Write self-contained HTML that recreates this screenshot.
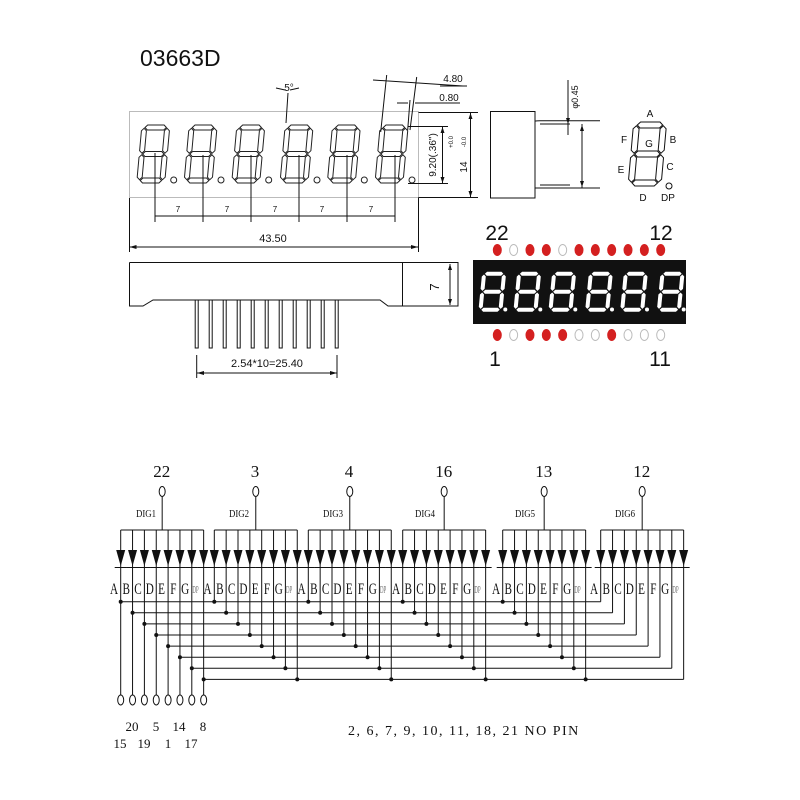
<!DOCTYPE html>
<html><head><meta charset="utf-8"><style>
html,body{margin:0;padding:0;background:#fff;}
svg{display:block;}
.s{font-family:"Liberation Serif",serif;}
.a{font-family:"Liberation Sans",sans-serif;}
</style></head><body>
<svg id="sv" width="800" height="800" viewBox="0 0 800 800" xmlns="http://www.w3.org/2000/svg">
<rect width="800" height="800" fill="#fff"/>
<text x="140" y="66" class="a" font-size="23" fill="#111">03663D</text>

<!-- front view -->
<rect x="129.5" y="111.5" width="289" height="86" fill="none" stroke="#bbb" stroke-width="1"/>
<g id="fd" stroke="#222" stroke-width="1" fill="none"></g>
<g stroke="#111" stroke-width="1" fill="none">
<path d="M418.5 112.5H478M418.5 197.5H478M418.5 197.5V252M129.5 198V252"/>
<path d="M408 126.5H448M408 183.5H448M442.5 127V183M470.5 113V197"/>
<path d="M155 153V222M203 155V222M251 155V222M299 155V222M347 155V222M395 155V222M155 216H395"/>
<path d="M129.5 247H418"/>
<path d="M386.7 75L380.7 132M416.7 77L410 130M410 100L407.7 130M373 80L463 86M440 86H467M397 103H408M415 103H460"/>
<path d="M288 93L286 123M276 88L285 90M290 90L299 88"/>
</g>
<g fill="#111">
<path d="M442.5 127l-2 6h4zM442.5 183l-2 -6h4zM470.5 113l-2 6h4zM470.5 197l-2 -6h4zM129.5 247l7 -2v4zM418 247l-7 -2v4z"/>
</g>
<g class="a" font-size="8" fill="#111" text-anchor="middle">
<text x="178" y="212">7</text><text x="227" y="212">7</text><text x="275" y="212">7</text><text x="322" y="212">7</text><text x="371" y="212">7</text>
</g>
<text x="273" y="242" class="a" font-size="11" text-anchor="middle" fill="#111">43.50</text>
<text x="453" y="82" class="a" font-size="10" text-anchor="middle" fill="#111">4.80</text>
<text x="449" y="101" class="a" font-size="10" text-anchor="middle" fill="#111">0.80</text>
<text x="289" y="91" class="a" font-size="10" text-anchor="middle" fill="#111">5°</text>
<text transform="translate(436,155) rotate(-90)" class="a" font-size="10" text-anchor="middle" fill="#111">9.20(.36")</text>
<text transform="translate(453,142) rotate(-90)" class="a" font-size="6" text-anchor="middle" fill="#111">+0.0</text>
<text transform="translate(466,142) rotate(-90)" class="a" font-size="6" text-anchor="middle" fill="#111">-0.0</text>
<text transform="translate(467,167) rotate(-90)" class="a" font-size="10" text-anchor="middle" fill="#111">14</text>

<!-- side view -->
<g stroke="#111" stroke-width="1" fill="none">
<path d="M129.5 262.5H458V306H402.5M402.5 262.5V306H388L380 300H153L143 306H129.5V262.5"/>
<path d="M450 264V305M196.7 355V378M337 355V378M197 373H337"/>
</g>
<g id="pins" stroke="#111" stroke-width="1" fill="#fff"></g>
<g fill="#111"><path d="M450 264l-2 6h4zM450 305l-2 -6h4zM197 373l7 -2v4zM337 373l-7 -2v4z"/></g>
<text x="267" y="367" class="a" font-size="11" text-anchor="middle" fill="#111">2.54*10=25.40</text>
<text transform="translate(439,287) rotate(-90)" class="a" font-size="13" text-anchor="middle" fill="#111">7</text>

<!-- profile -->
<g stroke="#111" stroke-width="1" fill="none">
<path d="M490.5 111.5H535V198H490.5Z"/>
<path d="M535 121C537 121 537 120.7 540 120.7H600M540 124H570M535 188C537 188 537 188 540 188H600M540 185H570"/>
<path d="M568 80V135M582 124V188"/>
</g>
<g fill="#111"><path d="M568 124l-2 -6h4zM582 125l-2 6h4zM582 187l-2 -6h4z"/></g>
<text transform="translate(578,97) rotate(-90)" class="a" font-size="9" text-anchor="middle" fill="#111">φ0.45</text>

<!-- segment legend -->
<g id="leg" stroke="#111" stroke-width="1" fill="none"></g>
<g class="a" font-size="10" fill="#111" text-anchor="middle">
<text x="650" y="117">A</text><text x="673" y="143">B</text><text x="624" y="143">F</text><text x="649" y="147">G</text>
<text x="621" y="173">E</text><text x="670" y="170">C</text><text x="643" y="201">D</text><text x="668" y="201">DP</text>
</g>
<circle cx="669" cy="186" r="3" fill="none" stroke="#111"/>

<!-- LED photo -->
<rect x="473" y="260" width="213" height="64" fill="#111"/>
<g id="led" fill="#fff"></g>
<g id="dots"></g>
<g class="a" font-size="21" fill="#111" text-anchor="middle">
<text x="497" y="240">22</text><text x="661" y="240">12</text>
<text x="495" y="366">1</text><text x="660" y="366">11</text>
</g>

<!-- schematic -->
<g id="sch" stroke="#111" stroke-width="1" fill="none"></g>
<g id="schf" fill="#111"></g>
<g class="s" font-size="17" fill="#111" text-anchor="middle">
<text x="161.7" y="477">22</text><text x="255" y="477">3</text><text x="349" y="477">4</text>
<text x="443.7" y="477">16</text><text x="543.7" y="477">13</text><text x="641.7" y="477">12</text>
</g>
<g class="s" font-size="11" fill="#111" text-anchor="middle">
<text x="146" y="517" transform="translate(146,0) scale(0.8,1) translate(-146,0)">DIG1</text>
<text x="239" y="517" transform="translate(239,0) scale(0.8,1) translate(-239,0)">DIG2</text>
<text x="333" y="517" transform="translate(333,0) scale(0.8,1) translate(-333,0)">DIG3</text>
<text x="425" y="517" transform="translate(425,0) scale(0.8,1) translate(-425,0)">DIG4</text>
<text x="525" y="517" transform="translate(525,0) scale(0.8,1) translate(-525,0)">DIG5</text>
<text x="625" y="517" transform="translate(625,0) scale(0.8,1) translate(-625,0)">DIG6</text>
</g>
<defs>
<g id="lt" class="s" font-size="16" fill="#111" text-anchor="middle">
<text x="0" y="594" transform="translate(-1,0) scale(0.7,1)">A</text>
<text x="0" y="594" transform="translate(11.2,0) scale(0.7,1)">B</text>
<text x="0" y="594" transform="translate(23,0) scale(0.7,1)">C</text>
<text x="0" y="594" transform="translate(34.8,0) scale(0.7,1)">D</text>
<text x="0" y="594" transform="translate(46.6,0) scale(0.7,1)">E</text>
<text x="0" y="594" transform="translate(58.4,0) scale(0.7,1)">F</text>
<text x="0" y="594" transform="translate(70.2,0) scale(0.7,1)">G</text>
<text x="0" y="593" font-size="11" fill="#777" transform="translate(80.5,0) scale(0.45,1)">DP</text>
</g>
</defs>
<use href="#lt" x="115"/><use href="#lt" x="208.6"/><use href="#lt" x="302.6"/>
<use href="#lt" x="397"/><use href="#lt" x="497"/><use href="#lt" x="595"/>
<g class="s" font-size="13" fill="#111" text-anchor="middle">
<text x="132" y="731">20</text><text x="156" y="731">5</text><text x="179" y="731">14</text><text x="203" y="731">8</text>
<text x="120" y="748">15</text><text x="144" y="748">19</text><text x="168" y="748">1</text><text x="191" y="748">17</text>
</g>
<text x="348" y="735" class="s" font-size="14" fill="#111" letter-spacing="1.5">2, 6, 7, 9, 10, 11, 18, 21  NO PIN</text>
</svg>
<script>
var NS="http://www.w3.org/2000/svg";
function el(p,t,a){var e=document.createElementNS(NS,t);for(var k in a)e.setAttribute(k,a[k]);p.appendChild(e);return e;}
function segs(w,h,t){var hs=function(x1,x2,y){return [[x1,y],[x1+t/2,y-t/2],[x2-t/2,y-t/2],[x2,y],[x2-t/2,y+t/2],[x1+t/2,y+t/2]];};
var vs=function(x,y1,y2){return [[x,y1],[x+t/2,y1+t/2],[x+t/2,y2-t/2],[x,y2],[x-t/2,y2-t/2],[x-t/2,y1+t/2]];};
var g=0.8,m=h/2;
return [hs(t/2+g,w-t/2-g,t/2),hs(t/2+g,w-t/2-g,m),hs(t/2+g,w-t/2-g,h-t/2),vs(t/2,t/2+g,m-g),vs(w-t/2,t/2+g,m-g),vs(t/2,m+g,h-t/2-g),vs(w-t/2,m+g,h-t/2-g)];}
function digit(p,x,y,w,h,t,sk,attrs){var S=segs(w,h,t);S.forEach(function(s){var pts=s.map(function(q){return (x+q[0]+(h-q[1])*sk).toFixed(1)+","+(y+q[1]).toFixed(1);}).join(" ");var a={points:pts};for(var k in attrs)a[k]=attrs[k];el(p,"polygon",a);});}
var fd=document.getElementById("fd");
[136.7,184,231.7,280,327.3,375].forEach(function(x){digit(fd,x,125,28,58,5,0.09,{});el(fd,"circle",{cx:x+37,cy:180,r:3});});
digit(document.getElementById("leg"),628,122,33,64,6,0.09,{});
var led=document.getElementById("led");
[478.3,513.3,548.3,585,620,656.7].forEach(function(x){digit(led,x,271.7,24,40,4,0.1,{});el(led,"circle",{cx:x+27,cy:309.5,r:2});});
var dots=document.getElementById("dots");
var topRow=[1,0,1,1,0,1,1,1,1,1,1],botRow=[1,0,1,1,1,0,0,1,0,0,0];
for(var i=0;i<11;i++){var x=497.3+i*16.34;
el(dots,"ellipse",{cx:x,cy:250,rx:4,ry:5.5,fill:topRow[i]?"#d42020":"#fff",stroke:topRow[i]?"#d42020":"#bbb"});
el(dots,"ellipse",{cx:x,cy:335,rx:4,ry:5.5,fill:botRow[i]?"#d42020":"#fff",stroke:botRow[i]?"#d42020":"#bbb"});}
var pins=document.getElementById("pins");
for(var i=0;i<11;i++){el(pins,"rect",{x:195.2+i*14,y:300,width:3,height:48});}
var sch=document.getElementById("sch"),sf=document.getElementById("schf");
var st=[120.7,214.3,308.3,402.7,502.7,600.7],sp=11.85;
function bus(k){return 601.7+k*11.1;}
st.forEach(function(s,d){var c=s+3.5*sp;
el(sch,"line",{x1:c,y1:497,x2:c,y2:530});el(sch,"ellipse",{cx:c,cy:491.5,rx:3,ry:5});
el(sch,"line",{x1:s,y1:530,x2:s+7*sp,y2:530});
for(var k=0;k<8;k++){var x=s+k*sp;
var yb=d==0?695:bus(k);
el(sch,"line",{x1:x,y1:530,x2:x,y2:yb});
el(sf,"polygon",{points:(x-4.5)+",550 "+(x+4.5)+",550 "+x+",566"});
el(sch,"line",{x1:x-6,y1:567.5,x2:x+6,y2:567.5});
if(d<5)el(sf,"circle",{cx:x,cy:bus(k),r:2});
if(d==0)el(sch,"ellipse",{cx:x,cy:700,rx:3,ry:5});}});
for(var k=0;k<8;k++){el(sch,"line",{x1:st[0]+k*sp,y1:bus(k),x2:st[5]+k*sp,y2:bus(k)});}
</script>
</body></html>
